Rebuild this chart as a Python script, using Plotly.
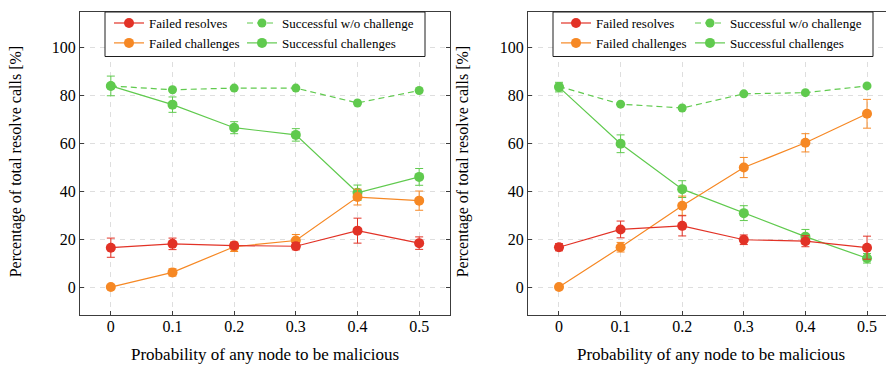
import plotly.graph_objects as go

x_vals = [0, 0.1, 0.2, 0.3, 0.4, 0.5]
x_ticks = ["0", "0.1", "0.2", "0.3", "0.4", "0.5"]
y_ticks = [0, 20, 40, 60, 80, 100]

# Left panel
L_failed_resolves = [16.4, 18.0, 17.3, 17.0, 23.5, 18.3]
L_failed_resolves_err = [4.0, 2.4, 1.2, 1.5, 5.2, 2.6]
L_failed_chall = [0.0, 6.1, 16.8, 19.4, 37.5, 36.0]
L_failed_chall_err = [0.0, 1.5, 2.0, 2.5, 3.3, 4.0]
L_succ_wo = [83.8, 82.2, 82.9, 82.9, 76.7, 81.9]
L_succ_chall = [83.8, 76.0, 66.4, 63.4, 39.3, 45.9]
L_succ_chall_err = [4.1, 3.2, 2.5, 2.6, 3.2, 3.5]

# Right panel
R_failed_resolves = [16.6, 24.0, 25.5, 19.7, 19.1, 16.4]
R_failed_resolves_err = [1.5, 3.5, 4.2, 2.0, 2.3, 4.8]
R_failed_chall = [0.0, 16.6, 33.9, 49.8, 60.1, 72.2]
R_failed_chall_err = [0.0, 2.0, 4.0, 4.2, 3.8, 6.0]
R_succ_wo = [83.6, 76.2, 74.6, 80.5, 81.0, 83.8]
R_succ_chall = [83.3, 59.7, 40.8, 30.8, 21.0, 12.0]
R_succ_chall_err = [2.0, 3.7, 3.5, 3.1, 3.0, 2.0]

RED = "rgb(226,50,38)"
ORANGE = "rgb(246,136,36)"
GREEN = "rgb(96,202,78)"
FONT = "Liberation Serif"

W, H = 894, 366
OFF = 8  # page body margin


def px(x):
    return (x - OFF) / W


def py(y):
    return min(1.0, 1 - (y - OFF) / H)


fig = go.Figure()


def add_panel(xa, ya, legA, legB, fr, fre, fc, fce, swo, sc, sce):
    def eb(vals, color):
        return dict(type="data", array=vals, visible=True, color=color, thickness=1, width=4)
    fig.add_trace(go.Scatter(x=x_vals, y=swo, mode="lines+markers", name="Successful w/o challenge",
                             line=dict(color=GREEN, width=1.2, dash="6px,4px"), marker=dict(size=9, color=GREEN),
                             xaxis=xa, yaxis=ya, legend=legB, legendrank=1))
    fig.add_trace(go.Scatter(x=x_vals, y=sc, mode="lines+markers", name="Successful challenges",
                             line=dict(color=GREEN, width=1.2), marker=dict(size=10, color=GREEN),
                             error_y=eb(sce, GREEN), xaxis=xa, yaxis=ya, legend=legB, legendrank=2))
    fig.add_trace(go.Scatter(x=x_vals, y=fc, mode="lines+markers", name="Failed challenges",
                             line=dict(color=ORANGE, width=1.2), marker=dict(size=10, color=ORANGE),
                             error_y=eb(fce, ORANGE), xaxis=xa, yaxis=ya, legend=legA, legendrank=2))
    fig.add_trace(go.Scatter(x=x_vals, y=fr, mode="lines+markers", name="Failed resolves",
                             line=dict(color=RED, width=1.2), marker=dict(size=10, color=RED),
                             error_y=eb(fre, RED), xaxis=xa, yaxis=ya, legend=legA, legendrank=1))


add_panel("x", "y", "legend", "legend2", L_failed_resolves, L_failed_resolves_err, L_failed_chall,
          L_failed_chall_err, L_succ_wo, L_succ_chall, L_succ_chall_err)
add_panel("x2", "y2", "legend3", "legend4", R_failed_resolves, R_failed_resolves_err, R_failed_chall,
          R_failed_chall_err, R_succ_wo, R_succ_chall, R_succ_chall_err)

AX = "rgb(60,60,60)"
GRID = "rgb(222,222,222)"


def xaxis(domain, rng):
    return dict(domain=domain, range=rng, tickvals=x_vals, ticktext=x_ticks, showgrid=True,
                gridcolor=GRID, griddash="5px,5px", gridwidth=1, zeroline=False, showline=True,
                linecolor=AX, linewidth=1, mirror="ticks", ticks="inside", ticklen=4, tickcolor=AX,
                ticklabelstandoff=-3,
                tickfont=dict(family=FONT, size=16, color="black"))


def yaxis(domain, anchor):
    return dict(domain=domain, range=[-11.5, 114.6], tickvals=y_ticks, showgrid=True, anchor=anchor,
                gridcolor=GRID, griddash="5px,5px", gridwidth=1, zeroline=False, showline=True,
                linecolor=AX, linewidth=1, mirror="ticks", ticks="inside", ticklen=4, tickcolor=AX,
                tickfont=dict(family=FONT, size=16, color="black"))


ydom = [py(314), py(8)]
leg_common = dict(orientation="v", bgcolor="rgba(0,0,0,0)", borderwidth=0,
                  font=dict(family=FONT, size=13, color="black"), xanchor="left", yanchor="top",
                  tracegroupgap=0, itemwidth=30, y=1 + 4 / H)

fig.update_layout(
    width=W, height=H, margin=dict(l=0, r=0, t=0, b=0),
    paper_bgcolor="white", plot_bgcolor="white",
    xaxis=xaxis([px(80), px(450)], [-0.05, 0.55]),
    yaxis=yaxis(ydom, "x"),
    xaxis2=xaxis([px(528), px(894)], [-0.0503, 0.5438]),
    yaxis2=yaxis(ydom, "x2"),
    legend=dict(x=px(109), **leg_common),
    legend2=dict(x=px(242), **leg_common),
    legend3=dict(x=px(556), **leg_common),
    legend4=dict(x=px(690), **leg_common),
    font=dict(family=FONT, color="black"),
    showlegend=True,
)

# legend frames
for x0, x1 in [(105, 425), (553, 873)]:
    fig.add_shape(type="rect", xref="paper", yref="paper", x0=px(x0), x1=px(x1),
                  y0=py(53), y1=py(8), fillcolor="white",
                  line=dict(color="rgb(30,30,30)", width=1), layer="above")

ytitle = "Percentage of total resolve calls [%]"
xtitle = "Probability of any node to be malicious"
for xc in [16, 463]:
    fig.add_annotation(text=ytitle, x=px(xc), y=py(160), xref="paper", yref="paper",
                       xanchor="center", yanchor="middle",
                       textangle=-90, showarrow=False, font=dict(family=FONT, size=16, color="black"))
for xc in [265, 711]:
    fig.add_annotation(text=xtitle, x=px(xc), y=py(354), xref="paper", yref="paper",
                       xanchor="center", yanchor="middle",
                       showarrow=False, font=dict(family=FONT, size=17, color="black"))

fig.write_html("out.html")
